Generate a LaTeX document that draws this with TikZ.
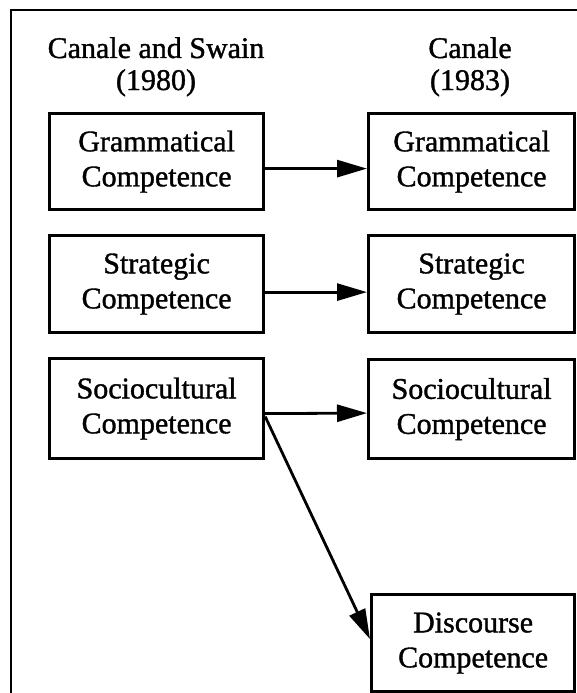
\documentclass[tikz,border=0pt]{standalone}
\usepackage{fontspec}
\setmainfont[FakeBold=1.2]{Liberation Serif}
\usetikzlibrary{arrows.meta,positioning}
\begin{document}
\begin{tikzpicture}[x=1pt,y=-1pt,
  box/.style={draw, line width=3.2pt, anchor=north west, align=center,
    inner sep=0pt, font=\fontsize{30}{35}\selectfont},
  head/.style={anchor=base, font=\fontsize{30}{35}\selectfont},
  conn/.style={line width=2.8pt, -{Triangle[length=30pt,width=17pt]}}]
\useasboundingbox (0,0) rectangle (577,693);
\fill[white] (0,0) rectangle (577,693);
% frame
\draw[line width=2pt] (10.5,700) -- (10.5,10.5) -- (590,10.5);
% headings
\node[head] (h1a) at (156,58) {Canale and Swain};
\node[head] (h1b) at (156,90) {(1980)};
\node[head] (h2a) at (470,58) {Canale};
\node[head] (h2b) at (470,90) {(1983)};
% left boxes
\node[box, minimum width=214pt, minimum height=96pt] (g1) at (48,112) {Grammatical\\Competence};
\node[box, minimum width=214pt, minimum height=97pt] (s1) at (48,234) {Strategic\\Competence};
\node[box, minimum width=214pt, minimum height=100pt] (c1) at (48,357) {Sociocultural\\Competence};
% right boxes
\node[box, minimum width=206pt, minimum height=96pt] (g2) at (367,112) {Grammatical\\Competence};
\node[box, minimum width=206pt, minimum height=97pt] (s2) at (367,234) {Strategic\\Competence};
\node[box, minimum width=206pt, minimum height=99pt] (c2) at (367,358) {Sociocultural\\Competence};
\node[box, minimum width=203pt, minimum height=97pt] (d2) at (370,593) {Discourse\\Competence};
% connectors
\draw[conn] ([yshift=-7pt]g1.east) -- ([yshift=-7pt]g2.west);
\draw[conn] ([yshift=-8pt]s1.east) -- ([yshift=-8pt]s2.west);
\draw[conn] ([yshift=-5pt]c1.east) -- ([yshift=-4pt]c2.west);
\draw[conn] ([yshift=-8pt]c1.east) -- ([yshift=4pt]d2.west);
\end{tikzpicture}
\end{document}
